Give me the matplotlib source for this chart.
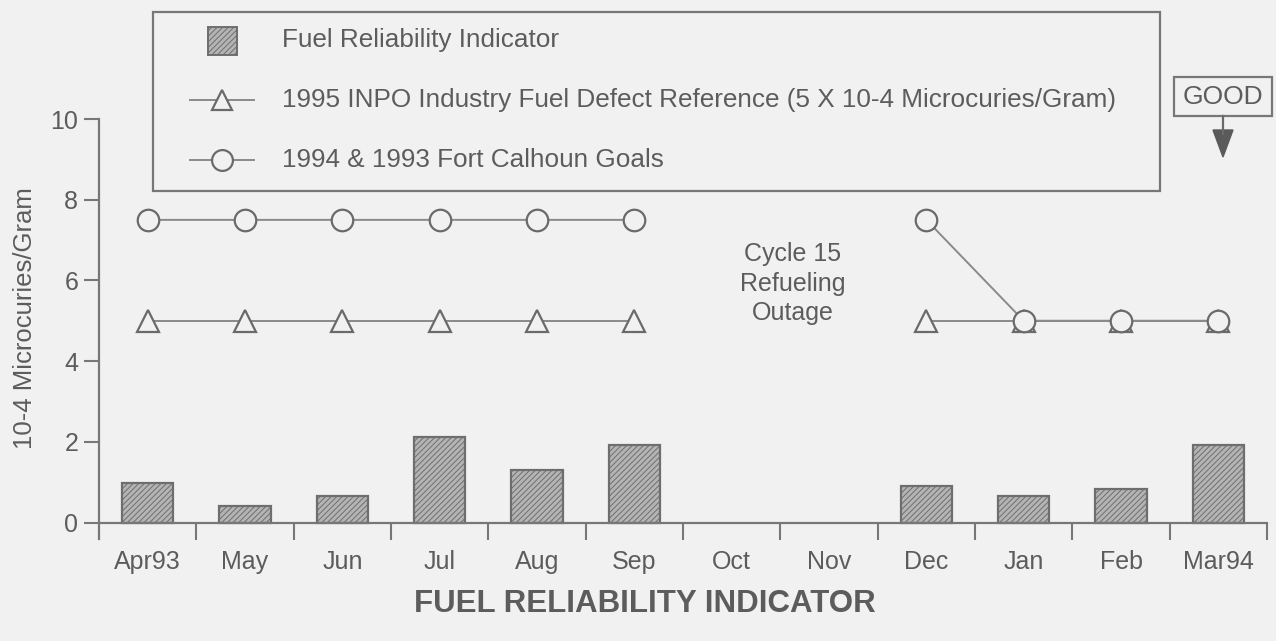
import matplotlib
matplotlib.use('Agg')
import matplotlib.pyplot as plt
import numpy as np
from matplotlib.patches import Rectangle, Polygon
from matplotlib.lines import Line2D

# ---------------- data ----------------
months = ['Apr93', 'May', 'Jun', 'Jul', 'Aug', 'Sep', 'Oct', 'Nov', 'Dec', 'Jan', 'Feb', 'Mar94']
fuel_indicator = [0.97, 0.40, 0.65, 2.12, 1.30, 1.93, np.nan, np.nan, 0.90, 0.65, 0.83, 1.92]
inpo_reference = [5, 5, 5, 5, 5, 5, np.nan, np.nan, 5, 5, 5, 5]
calhoun_goals = [7.5, 7.5, 7.5, 7.5, 7.5, 7.5, np.nan, np.nan, 7.5, 5, 5, 5]
yticks = [0, 2, 4, 6, 8, 10]

legend_labels = ['Fuel Reliability Indicator',
                 '1995 INPO Industry Fuel Defect Reference (5 X 10-4 Microcuries/Gram)',
                 '1994 & 1993 Fort Calhoun Goals']
ylabel = '10-4 Microcuries/Gram'
title = 'FUEL RELIABILITY INDICATOR'
note = 'Cycle 15\nRefueling\nOutage'

# ---------------- style ----------------
plt.rcParams['font.family'] = ['Liberation Sans', 'DejaVu Sans']
plt.rcParams['hatch.linewidth'] = 0.7
BG = '#f1f1f1'
TXT = '#5c5c5c'
AX = '#777777'
LINE = '#8a8a8a'
MEDGE = '#6a6a6a'
BARFACE = '#b4b4b4'
BAREDGE = '#6e6e6e'
FS = 18

W, H = 1276, 641
fig = plt.figure(figsize=(W / 100, H / 100), dpi=100, facecolor=BG)

# axes geometry in pixels
x_left, x_right = 99, 1267
y_top_px, y_zero_px = 119, 522.5
ppu = (y_zero_px - y_top_px) / 10.0
ymin = -0.4
y_bot_px = y_zero_px - ymin * ppu
ax = fig.add_axes([x_left / W, 1 - y_bot_px / H, (x_right - x_left) / W, (y_bot_px - y_top_px) / H])
ax.set_facecolor('none')

x = np.arange(len(months))
ax.bar(x, fuel_indicator, width=0.53, color=BARFACE, edgecolor=BAREDGE,
       hatch='//////', linewidth=1.6, zorder=2)

ax.plot(x, inpo_reference, color=LINE, lw=1.4, marker='^', markersize=16,
        markerfacecolor=BG, markeredgecolor=MEDGE, markeredgewidth=1.6, zorder=3)
ax.plot(x, calhoun_goals, color=LINE, lw=1.4, marker='o', markersize=15.5,
        markerfacecolor=BG, markeredgecolor=MEDGE, markeredgewidth=1.6, zorder=4)

ax.set_xlim(-0.5, len(months) - 0.5)
ax.set_ylim(ymin, 10)
for s in ['top', 'right']:
    ax.spines[s].set_visible(False)
ax.spines['bottom'].set_position(('data', 0))
for s in ['left', 'bottom']:
    ax.spines[s].set_color(AX)
    ax.spines[s].set_linewidth(1.6)

ax.set_yticks(yticks)
ax.set_yticklabels([str(v) for v in yticks])
ax.set_xticks(x + 0.5, minor=False)
ax.set_xticklabels([''] * len(months))
ax.set_xticks(x, minor=True)
ax.set_xticklabels(months, minor=True)
ax.tick_params(axis='x', which='major', direction='out', length=12, width=1.5, color=AX)
ax.tick_params(axis='x', which='minor', length=0, pad=20, labelsize=FS, labelcolor=TXT)
ax.tick_params(axis='y', direction='out', length=11, width=1.5, color=AX,
               labelsize=FS, labelcolor=TXT, pad=4)

ax.text(6.63, 6.95, note, ha='center', va='top', fontsize=FS, color=TXT,
        linespacing=1.3)

# overlay in pixel coordinates for legend box, labels and GOOD marker
ov = fig.add_axes([0, 0, 1, 1], facecolor='none')
ov.set_xlim(0, W)
ov.set_ylim(H, 0)
ov.axis('off')

ov.text(25, 318, ylabel, rotation=90, ha='center', va='center', fontsize=18.5, color=TXT)
ov.text(645, 604, title, ha='center', va='center', fontsize=22.5, fontweight='bold', color=TXT)

# legend
ov.add_patch(Rectangle((153, 12), 1160 - 153, 191 - 12, fill=False, edgecolor=AX, lw=1.6))
ov.add_patch(Rectangle((208, 27), 29, 28, facecolor=BARFACE, edgecolor=BAREDGE,
                       hatch='//////', lw=1.4))
ov.add_line(Line2D([190, 254], [100, 100], color=LINE, lw=1.4))
ov.add_line(Line2D([222], [100], marker='^', markersize=15, markerfacecolor=BG,
                   markeredgecolor=MEDGE, markeredgewidth=1.6, linestyle='none'))
ov.add_line(Line2D([190, 254], [160, 160], color=LINE, lw=1.4))
ov.add_line(Line2D([222], [160], marker='o', markersize=15, markerfacecolor=BG,
                   markeredgecolor=MEDGE, markeredgewidth=1.6, linestyle='none'))
for yy, lab in zip([40, 100, 160], legend_labels):
    ov.text(282, yy, lab, ha='left', va='center', fontsize=18.8, color=TXT)

# GOOD indicator
ov.add_patch(Rectangle((1174, 77), 98, 39, fill=False, edgecolor=AX, lw=1.6))
ov.text(1223, 97, 'GOOD', ha='center', va='center', fontsize=19, color=TXT)
ov.add_line(Line2D([1223, 1223], [116, 134], color=MEDGE, lw=1.6))
ov.add_patch(Polygon([[1213, 130], [1233, 130], [1223, 157]], closed=True,
                     facecolor='#5a5a5a', edgecolor='#5a5a5a'))

fig.savefig('out.png', dpi=100, facecolor=BG)
